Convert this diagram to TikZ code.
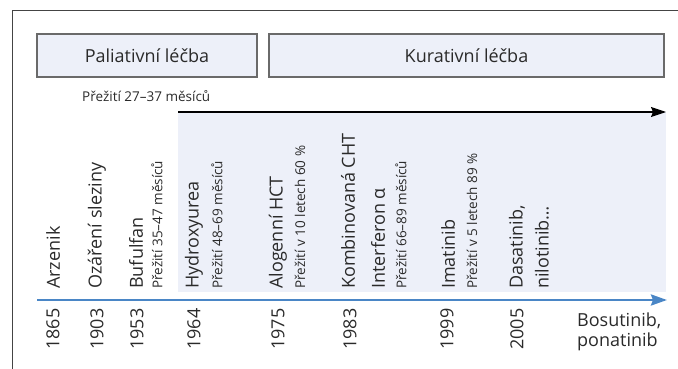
\documentclass[tikz,border=0pt]{standalone}
\usepackage{fontspec}
\setmainfont{Open Sans}
\usetikzlibrary{arrows.meta}
\definecolor{fillc}{HTML}{EDF0F9}
\definecolor{boxline}{HTML}{6A6A6A}
\definecolor{axisblue}{HTML}{4A86C6}
\definecolor{txt}{HTML}{2A2A2A}
\definecolor{framec}{HTML}{444444}
\begin{document}
\begin{tikzpicture}[x=1pt,y=-1pt,
  big/.style={font=\fontsize{18}{20}\selectfont, text=txt, inner sep=0pt},
  small/.style={font=\fontsize{13.5}{15}\selectfont, text=txt, inner sep=0pt},
  vbig/.style={big, rotate=90, anchor=west},
  vsmall/.style={small, rotate=90, anchor=west},
  year/.style={big, rotate=90, anchor=west},
  phase/.style={draw=boxline, line width=1.3pt, fill=fillc, big, inner sep=0pt},
  frameline/.style={draw=framec, line width=0.9pt}
]
\useasboundingbox (0,0) rectangle (678,369);
% outer frame (partial)
\draw[frameline] (12,369) -- (12,10) -- (678,10);
% phase boxes
\node[phase, minimum width=220pt, minimum height=43pt] (pal) at (147,55.5) {Paliativní léčba};
\node[phase, minimum width=395pt, minimum height=43pt] (kur) at (466.5,55.5) {Kurativní léčba};
\node[small, anchor=west] (prez1) at (82,96) {Přežití 27–37 měsíců};
% curative shaded zone
\fill[fillc] (178,112) rectangle (666,292);
\coordinate (ka) at (178,112);
\coordinate (kb) at (666,112);
\draw[line width=1.1pt, -{Stealth[length=15pt,width=10pt,inset=2pt]}] (ka) -- (kb);
% time axis
\coordinate (ta) at (37,300);
\coordinate (tb) at (667,300);
\draw[axisblue, line width=2.6pt, -{Stealth[length=16pt,width=11pt,inset=2pt]}] (ta) -- (tb);
% event labels
\node[vbig] (arz) at (53,289) {Arzenik};
\node[vbig] (ozs) at (97,289) {Ozáření sleziny};
\node[vbig] (buf) at (136,289) {Bufulfan};
\node[vsmall] (bufp) at (157,289) {Přežití 35–47 měsíců};
\node[vbig] (hyd) at (194,289) {Hydroxyurea};
\node[vsmall] (hydp) at (217,289) {Přežití 48–69 měsíců};
\node[vbig] (alo) at (278,289) {Alogenní HCT};
\node[vsmall] (alop) at (300,289) {Přežití v 10 letech 60 \%};
\node[vbig] (kom) at (348,289) {Kombinovaná CHT};
\node[vbig] (int) at (378,289) {Interferon α};
\node[vsmall] (intp) at (401,289) {Přežití 66–89 měsíců};
\node[vbig] (ima) at (448,289) {Imatinib};
\node[vsmall] (imap) at (472,289) {Přežití v 5 letech 89 \%};
\node[vbig] (das) at (517,289) {Dasatinib,};
\node[vbig] (nil) at (542,289) {nilotinib…};
% years
\node[year] (y1865) at (53,350) {1865};
\node[year] (y1903) at (97,350) {1903};
\node[year] (y1953) at (137,350) {1953};
\node[year] (y1964) at (194,350) {1964};
\node[year] (y1975) at (278,350) {1975};
\node[year] (y1983) at (350,350) {1983};
\node[year] (y1999) at (447,350) {1999};
\node[year] (y2005) at (517,350) {2005};
\node[big, align=left, anchor=north west] (bos) at (577,313) {Bosutinib,\\ponatinib};
\end{tikzpicture}
\end{document}
